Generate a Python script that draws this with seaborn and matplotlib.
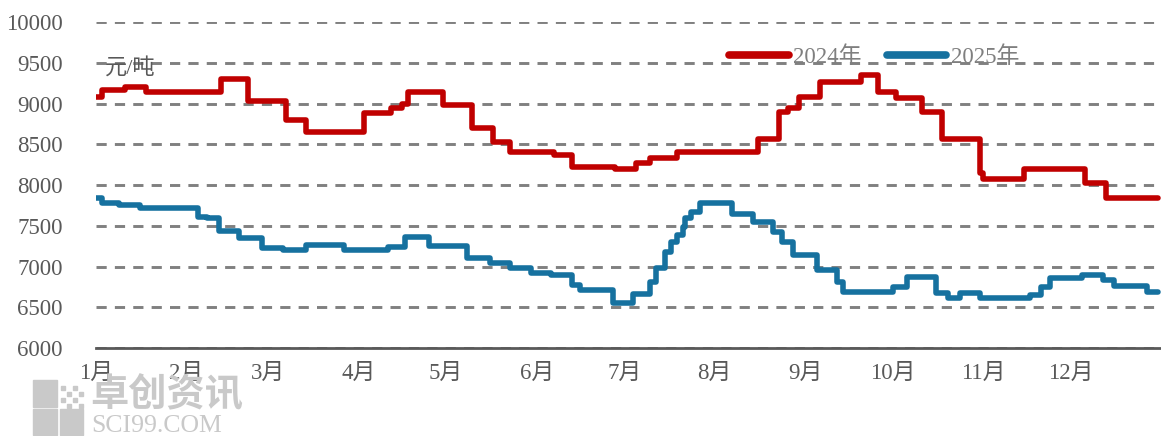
# Price comparison 2024 vs 2025 (元/吨), step lines on a Jan-Dec axis
import matplotlib
matplotlib.use("Agg")
import matplotlib.pyplot as plt
import matplotlib.dates as mdates
from matplotlib.ticker import FuncFormatter
from matplotlib.patches import Rectangle
import seaborn as sns
import pandas as pd

# 2024 price changes (month-day, 元/吨)
dates_2024 = ["01-01", "01-03", "01-11", "01-18", "02-13", "02-22", "03-07", "03-14",
              "04-03", "04-12", "04-16", "04-18", "04-30", "05-10", "05-17", "05-23",
              "06-07", "06-13", "06-28", "07-05", "07-10", "07-19", "08-16", "08-23",
              "08-26", "08-30", "09-06", "09-20", "09-26", "10-02", "10-11", "10-18",
              "10-31", "11-01", "11-15", "12-06", "12-13", "12-31"]
prices_2024 = [9080, 9170, 9200, 9140, 9300, 9030, 8800, 8650,
               8880, 8950, 9000, 9140, 8980, 8700, 8530, 8400,
               8370, 8220, 8200, 8270, 8330, 8400, 8570, 8900,
               8950, 9080, 9270, 9350, 9140, 9070, 8900, 8570,
               8150, 8070, 8200, 8030, 7840, 7840]

# 2025 price changes (month-day, 元/吨)
dates_2025 = ["01-01", "01-03", "01-09", "01-16", "02-05", "02-08", "02-12", "02-19",
              "02-27", "03-06", "03-14", "03-27", "04-11", "04-17", "04-25", "05-08",
              "05-16", "05-23", "05-30", "06-06", "06-13", "06-16", "06-27", "07-04",
              "07-10", "07-12", "07-15", "07-17", "07-19", "07-21", "07-22", "07-24",
              "07-27", "08-07", "08-14", "08-21", "08-24", "08-28", "09-05", "09-12",
              "09-14", "10-01", "10-06", "10-16", "10-20", "10-24", "10-31", "11-17",
              "11-21", "11-24", "12-05", "12-12", "12-16", "12-27", "12-31"]
prices_2025 = [7840, 7780, 7760, 7720, 7610, 7590, 7430, 7350,
               7230, 7200, 7260, 7200, 7240, 7360, 7250, 7100,
               7040, 6980, 6920, 6900, 6770, 6710, 6550, 6660,
               6810, 6980, 7180, 7300, 7390, 7490, 7600, 7670,
               7780, 7650, 7550, 7420, 7300, 7140, 6960, 6810,
               6690, 6750, 6870, 6670, 6610, 6670, 6610, 6650,
               6750, 6860, 6900, 6830, 6760, 6690, 6690]

years = ["2024年", "2025年"]
colors = ["#C00000", "#16719F"]
y_ticks = [6000, 6500, 7000, 7500, 8000, 8500, 9000, 9500, 10000]

# Long table on a common calendar (both years mapped onto one Jan-Dec axis)
frames = []
for label, ds, ps in [(years[0], dates_2024, prices_2024), (years[1], dates_2025, prices_2025)]:
    frames.append(pd.DataFrame({
        "date": pd.to_datetime(["2025-" + d for d in ds]),
        "price": ps,
        "year": label,
    }))
df = pd.concat(frames, ignore_index=True)

sns.set_style("white")
plt.rcParams["font.family"] = ["Liberation Serif", "Noto Sans CJK SC"]
text_gray = "#595959"

fig = plt.figure(figsize=(11.61, 4.36), dpi=100)
ax = fig.add_axes([0.0827, 0.2018, 0.9173, 0.7477])

sns.lineplot(data=df, x="date", y="price", hue="year", palette=colors,
             hue_order=years, estimator=None, drawstyle="steps-post",
             linewidth=4, ax=ax, zorder=3)

# Axes styling
ax.set_ylim(6000, 10000)
ax.set_yticks(y_ticks)
ax.set_xlim(pd.Timestamp("2025-01-01"), pd.Timestamp("2025-12-31 23:00"))
ax.xaxis.set_major_locator(mdates.MonthLocator())
ax.xaxis.set_major_formatter(FuncFormatter(lambda v, p: f"{mdates.num2date(v).month}月"))
ax.set_xlabel("")
ax.set_ylabel("")
ax.tick_params(axis="both", length=0, labelsize=16.5, labelcolor=text_gray)
ax.tick_params(axis="y", pad=24)
ax.tick_params(axis="x", pad=11)

ax.yaxis.grid(True, color="#808080", linestyle=(0, (3.5, 2.8)), linewidth=2.1)
ax.xaxis.grid(False)
for side in ["left", "right", "top"]:
    ax.spines[side].set_visible(False)
ax.spines["bottom"].set_color("#595959")
ax.spines["bottom"].set_linewidth(2)
ax.spines["bottom"].set_zorder(4)

# Unit label
ax.text(0.008, 0.89, "元/吨", transform=ax.transAxes, fontsize=16,
        color=text_gray, va="top", ha="left")

# Legend
leg = ax.legend(loc="upper left", bbox_to_anchor=(0.575, 0.99), ncol=2, frameon=False,
                fontsize=16.5, handlelength=2.6, columnspacing=1.1, handletextpad=0.2)
for t in leg.get_texts():
    t.set_color("#7f7f7f")
for h in leg.get_lines():
    h.set_linewidth(5.5)

# Watermark logo
wm = "#c9c9c9"
for (x0, y0, w, h) in [(33, 380, 24, 27), (33, 409, 24, 26), (60, 409, 23, 26)]:
    fig.patches.append(Rectangle((x0 / 1161, 1 - (y0 + h) / 436), w / 1161, h / 436,
                                 transform=fig.transFigure, color=wm, zorder=0))
for i in range(4):
    for j in range(4):
        if (i + j) % 2 == 0:
            fig.patches.append(Rectangle(((61 + i * 6) / 1161, 1 - (386 + j * 6 + 4) / 436),
                                         4 / 1161, 4 / 436, transform=fig.transFigure,
                                         color=wm, zorder=0))
fig.text(90 / 1161, 1 - 395 / 436, "卓创资讯", fontsize=27.5, color=wm, va="center",
         ha="left", family=["Noto Sans CJK SC"], fontweight="bold", zorder=0)
fig.text(91 / 1161, 1 - 426 / 436, "SCI99.COM", fontsize=18.5, color=wm, va="center",
         ha="left", zorder=0)

fig.savefig("out.png", dpi=100)
